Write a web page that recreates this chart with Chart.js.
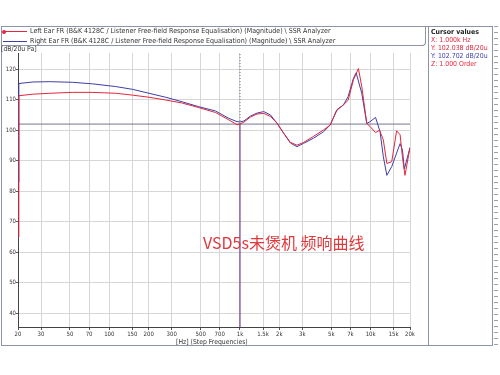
<!DOCTYPE html>
<html>
<head>
<meta charset="utf-8">
<script src="https://cdn.jsdelivr.net/npm/chart.js@4"></script>
<style>
body { margin: 0; background: #fff; }
#wrap { position: relative; width: 500px; height: 375px; font-family: "DejaVu Sans Condensed", "DejaVu Sans", sans-serif; color: #333; }
#wrap canvas { position: absolute; left: 0; top: 0; }
.abs { position: absolute; white-space: nowrap; }
.frame { left: 1px; top: 26px; width: 492px; height: 320px; border: 1px solid #8d94a8; box-sizing: border-box; }
.divider { left: 428px; top: 26px; width: 1px; height: 320px; background: #8d94a8; }
.legbox { left: 1px; top: 26px; width: 425px; height: 20px; border-right: 1px solid #8d94a8; border-bottom: 1px solid #8d94a8; border-bottom-right-radius: 4px; box-sizing: border-box; }
.legtxt { font-size: 7px; line-height: 8px; }
.small { font-size: 6.8px; line-height: 8px; }
.cursor { left: 431px; top: 28px; font-size: 6.9px; line-height: 8px; }
.ruler { left: 494px; top: 26px; width: 4px; height: 320px; background: repeating-linear-gradient(to bottom, #a0a0a0 0 1px, transparent 1px 6px); }
#title { left: 203px; top: 230px; font-family: "Noto Sans CJK SC", sans-serif; font-size: 16px; color: #e0393c; }
</style>
</head>
<body>
<div id="wrap">
  <canvas id="myChart" width="500" height="375"></canvas>
  <div class="abs frame"></div>
  <div class="abs divider"></div>
  <div class="abs ruler"></div>
  <div class="abs legbox"></div>
  <div class="abs" style="left:3px;top:31px;width:24px;height:1px;background:#e3263b"></div>
  <div class="abs" style="left:1.5px;top:29.5px;width:4px;height:4px;border-radius:50%;background:#e3263b"></div>
  <div class="abs" style="left:3px;top:40.5px;width:24px;height:1px;background:#3d3fa6"></div>
  <div class="abs legtxt" style="left:30px;top:27px">Left Ear FR (B&amp;K 4128C / Listener Free-field Response Equalisation) (Magnitude) \ SSR Analyzer</div>
  <div class="abs legtxt" style="left:30px;top:36.5px">Right Ear FR (B&amp;K 4128C / Listener Free-field Response Equalisation) (Magnitude) \ SSR Analyzer</div>
  <div class="abs small" style="left:1px;top:45px">[dB/20u Pa]</div>
  <div class="abs cursor">
    <div style="font-weight:bold;color:#222">Cursor values</div>
    <div style="color:#e3263b">X: 1.000k Hz</div>
    <div style="color:#e3263b">Y: 102.038 dB/20u</div>
    <div style="color:#3d3fa6">Y: 102.702 dB/20u</div>
    <div style="color:#e3263b">Z: 1.000 Order</div>
  </div>
  <div class="abs small" style="left:176px;top:338px">[Hz] (Step Frequencies)</div>
  <div class="abs" id="title">VSD5s未煲机 频响曲线</div>
</div>
<script>
// left ear (red)
var leftFreq = [20, 20.3, 26, 35, 52, 74, 112, 150, 201, 270, 361, 484, 649, 820, 950, 1000, 1069, 1200, 1350, 1520, 1710, 1920, 2160, 2430, 2730, 3070, 3660, 4360, 4900, 5510, 6190, 6720, 7380, 8060, 8550, 9340, 9900, 10900, 11700, 12500, 13300, 14500, 15800, 16800, 17500, 18300, 20000]
var leftDb = [65, 111.3, 111.8, 112.1, 112.4, 112.4, 112.1, 111.5, 110.8, 109.9, 108.9, 107.4, 105.8, 103.4, 101.8, 102.04, 102.6, 104.3, 105.3, 105.5, 104.5, 102.3, 99, 96, 95.1, 96, 98, 100.1, 101.7, 106.5, 108.3, 109.8, 116.5, 120.2, 114.3, 102.2, 101.2, 99.2, 100, 96.8, 89.1, 89.7, 99.8, 98.5, 91.3, 85.2, 94.3]

// right ear (blue)
var rightFreq = [20, 20.3, 26, 35, 52, 74, 112, 150, 201, 270, 361, 484, 649, 820, 950, 1000, 1069, 1200, 1350, 1520, 1710, 1920, 2160, 2430, 2730, 3070, 3660, 4360, 4900, 5510, 6190, 6720, 7380, 7740, 8550, 9340, 9900, 10900, 11800, 12500, 13300, 14500, 15800, 16800, 17500, 18100, 20000]
var rightDb = [83, 115.3, 115.8, 115.9, 115.7, 115.2, 114.3, 113.4, 112.1, 110.8, 109.3, 107.7, 106.3, 103.9, 102.8, 102.7, 103, 104.6, 105.6, 106.1, 105, 102.3, 99, 95.8, 94.6, 95.7, 97.4, 99.5, 101.7, 106.7, 108.3, 111, 117, 118.8, 112.1, 102.2, 102.8, 104.2, 99.5, 91.3, 85.2, 88.1, 92.5, 95.6, 93.5, 87.3, 94.3]

var xTicks = [20, 30, 50, 70, 100, 150, 200, 300, 500, 700, 1000, 1500, 2000, 3000, 5000, 7000, 10000, 15000, 20000]
var xLabels = ['20', '30', '50', '70', '100', '150', '200', '300', '500', '700', '1k', '1.5k', '2k', '3k', '5k', '7k', '10k', '15k', '20k']
var yTicks = [40, 50, 60, 70, 80, 90, 100, 110, 120]

var cursorX = 1000
var cursorY = 102
var yMin = 35.5
var yMax = 125.3

function pts(xs, ys) {
    return xs.map((x, i) => ({ x: x, y: ys[i] }))
}

var font = { family: 'DejaVu Sans Condensed', size: 6 }

new Chart('myChart', {
    type: 'line',
    data: {
        datasets: [
            { data: pts(leftFreq, leftDb), borderColor: '#e3263b', borderWidth: 1, pointRadius: 0, order: 0 },
            { data: pts(rightFreq, rightDb), borderColor: '#3d3fa6', borderWidth: 1, pointRadius: 0, order: 1 },
            { data: [{ x: 20, y: cursorY }, { x: 20000, y: cursorY }], borderColor: '#75758f', borderWidth: 1, pointRadius: 0, order: 5 },
            { data: [{ x: cursorX, y: yMin }, { x: cursorX, y: cursorY }], borderColor: '#5b2a86', borderWidth: 1, pointRadius: 0, order: 4 },
            { data: [{ x: cursorX, y: cursorY }, { x: cursorX, y: yMax }], borderColor: '#6a5a9a', borderWidth: 1, borderDash: [1, 2], pointRadius: 0, order: 4 }
        ]
    },
    options: {
        responsive: false,
        animation: false,
        layout: { padding: { left: 0, right: 90, top: 53, bottom: 36 } },
        plugins: { legend: { display: false }, tooltip: { enabled: false } },
        scales: {
            x: {
                type: 'logarithmic',
                min: 20,
                max: 20000,
                afterBuildTicks: (s) => { s.ticks = xTicks.map(v => ({ value: v })) },
                afterFit: (s) => { s.height = 12 },
                ticks: { autoSkip: false, maxRotation: 0, padding: 1, color: '#333', font: font,
                    callback: (v, i) => xLabels[i] },
                grid: { color: '#d6d6d6', tickColor: '#555', tickLength: 3 },
                border: { color: '#444' }
            },
            y: {
                min: yMin,
                max: yMax,
                afterBuildTicks: (s) => { s.ticks = yTicks.map(v => ({ value: v })) },
                afterFit: (s) => { s.width = 18 },
                ticks: { padding: 0, color: '#333', font: font },
                grid: { color: '#d6d6d6', tickColor: '#555', tickLength: 2 },
                border: { color: '#444' }
            }
        }
    }
})
</script>
</body>
</html>
